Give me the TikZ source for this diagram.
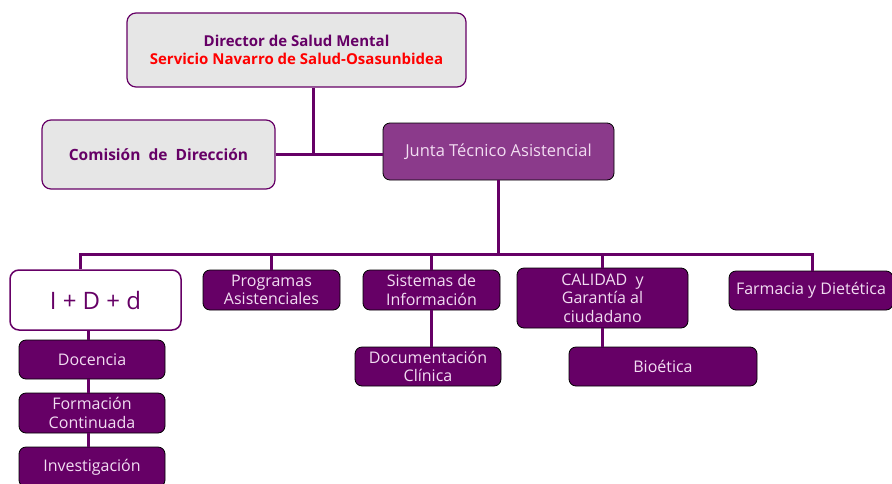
\documentclass[tikz,border=0pt]{standalone}
\usepackage{fontspec}
\setmainfont{Open Sans}
\definecolor{morado}{HTML}{660066}
\definecolor{moradoclaro}{HTML}{8B3A8B}
\definecolor{gris}{HTML}{E6E6E6}
\definecolor{textoclaro}{HTML}{F2DDF2}
\tikzset{
  caja/.style={rectangle, rounded corners=7pt, draw=black, line width=0.8pt, fill=morado,
    text=textoclaro, align=center, font=\fontsize{16}{18.5}\selectfont, inner sep=1pt},
  cajagris/.style={rectangle, rounded corners=9pt, draw=morado, line width=1.2pt, fill=gris,
    text=morado, align=center, font=\bfseries\fontsize{15}{18}\selectfont},
  linea/.style={morado, line width=3pt}
}

\begin{document}
\begin{tikzpicture}[x=1pt, y=-1pt]
            \useasboundingbox (0,0) rectangle (892,483);

            % cabecera
            \node[cajagris, minimum width=339pt, minimum height=74pt] (dir) at (296.5,50)
              {Director de Salud Mental\\ \textcolor{red}{Servicio Navarro de Salud-Osasunbidea}};
            \node[cajagris, font=\bfseries\fontsize{15.5}{18}\selectfont, minimum width=233pt,
              minimum height=69pt] (com) at (158.5,154.5)
              {Comisi\'on\ \ de\ \ Direcci\'on};
            \node[caja, fill=moradoclaro, font=\fontsize{16.5}{19}\selectfont, minimum width=231pt,
              minimum height=57pt] (junta) at (498.5,151.5)
              {Junta T\'ecnico Asistencial};

            % segundo nivel
            \node[caja, fill=white, draw=morado, line width=1.5pt, text=morado, rounded corners=9pt,
              font=\fontsize{24}{26}\selectfont, minimum width=171pt, minimum height=60pt] (imas) at (95.5,300)
              {I + D + d};
            \node[caja, minimum width=137pt, minimum height=40pt] (prog) at (271.5,290) {Programas\\Asistenciales};
            \node[caja, minimum width=137pt, minimum height=40pt] (sist) at (431.5,290) {Sistemas de\\Informaci\'on};
            \node[caja, minimum width=171pt, minimum height=60pt] (cal) at (602.5,298)
              {CALIDAD\ \ y\\Garant\'ia al\\ciudadano};
            \node[caja, minimum width=164pt, minimum height=39pt] (farm) at (811,290.5) {Farmacia y Diet\'etica};

            % tercer nivel
            \node[caja, minimum width=146pt, minimum height=39pt] (doc) at (92,359.5) {Docencia};
            \node[caja, minimum width=146pt, minimum height=40pt] (form) at (92,413) {Formaci\'on\\Continuada};
            \node[caja, minimum width=146pt, minimum height=40pt] (inv) at (92,467) {Investigaci\'on};
            \node[caja, minimum width=146pt, minimum height=39pt] (docc) at (428,366.5) {Documentaci\'on\\Cl\'inica};
            \node[caja, minimum width=188pt, minimum height=39pt] (bio) at (663,366.5) {Bio\'etica};

            % conectores
            \coordinate (m) at (313,154.5);
            \coordinate (bi) at (80,254);
            \coordinate (bd) at (812,254);
            \draw[linea] (dir.south -| m) -- (m);
            \draw[linea] (com.east) -- (com.east -| junta.west);
            \draw[linea] (junta.south) -- (junta.south |- bi);
            \draw[linea, line cap=rect] (bi) -- (bd);
            \draw[linea] (bi) -- (imas.north -| bi);
            \draw[linea] (prog.north |- bi) -- (prog.north);
            \draw[linea] (sist.north |- bi) -- (sist.north);
            \draw[linea] (cal.north |- bi) -- (cal.north);
            \draw[linea] (bd) -- (farm.north -| bd);
            \draw[linea] (imas.south -| 88,0) -- (doc.north -| 88,0);
            \draw[linea] (doc.south -| 88,0) -- (form.north -| 88,0);
            \draw[linea] (form.south -| 88,0) -- (inv.north -| 88,0);
            \draw[linea] (sist.south) -- (sist.south |- docc.north);
            \draw[linea] (cal.south) -- (cal.south |- bio.north);
        \end{tikzpicture}
\end{document}
